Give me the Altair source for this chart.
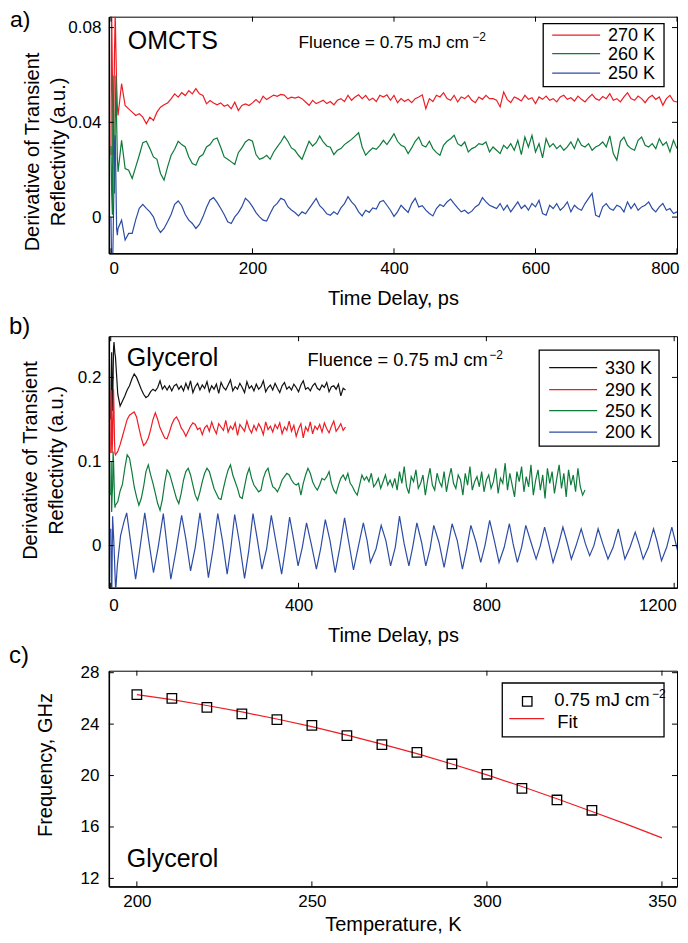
import altair as alt
import pandas as pd

FONT = "Liberation Sans"
INK = "black"

# ---------------- panel a : OMCTS (trace values in 1e-4 a.u.) ----------------
a_labels = ["270 K", "260 K", "250 K"]
a_colors = ["#EE1D25", "#0E7B3B", "#2D4CA5"]
a_xticks = [0, 200, 400, 600, 800]
a_yticks = [0, 0.04, 0.08]
a_early_t = [0, 1, 2, 3, 4, 5, 6, 7, 8, 9]
a270_early = [262, 860, 600, 262, 400, 700, 860, 700, 560, 470]
a260_early = [300, 100, 10, 598, 300, 100, 400, 598, 400, 250]
a250_early = [0, -200, -250, -100, 100, 300, 345, 150, -50, -76]
a_t0, a_dt = 10, 5
a270 = [429, 563, 471, 457, 443, 429, 436, 422, 394, 422,
        408, 443, 464, 474, 482, 499, 520, 506, 525, 513,
        534, 520, 542, 520, 513, 478, 492, 482, 474, 482,
        468, 474, 457, 485, 450, 471, 478, 471, 482, 496,
        482, 510, 496, 506, 515, 510, 518, 515, 499, 506, 502,
        507, 500, 486, 472, 493, 479, 486, 493, 479, 488,
        474, 493, 500, 488, 514, 493, 507, 516, 500, 514,
        493, 502, 488, 514, 507, 516, 493, 514, 483, 500,
        488, 497, 483, 500, 507, 516, 458, 500, 488, 514,
        507, 525, 500, 493, 514, 486, 507, 500, 514, 493,
        483, 507, 497, 514, 500,
        500, 493, 465, 528, 497, 483, 507, 500, 490, 514,
        497, 504, 479, 507, 497, 511, 493, 500, 486, 507,
        514, 497, 504, 490, 511, 497, 486, 504, 518, 500,
        493, 509, 500, 521, 493, 500, 486, 507, 525, 500,
        493, 511, 500, 483, 504, 514, 497, 507, 472, 500,
        514, 490, 486]
a260 = [191, 324, 205, 198, 163, 212, 261, 314, 320, 289,
        254, 244, 184, 156, 212, 261, 286, 320, 306, 296,
        254, 226, 219, 254, 264, 296, 306, 328, 334, 296,
        254, 244, 233, 222, 272, 292, 317, 328, 320, 264,
        244, 250, 261, 244, 275, 296, 317, 342, 320, 292, 282,
        261, 244, 282, 320, 300, 314, 342, 317, 300, 295,
        264, 282, 289, 306, 317, 328, 342, 356, 296, 261,
        278, 292, 286, 303, 324, 306, 328, 352, 320, 303,
        296, 268, 292, 320, 338, 303, 296, 320, 289, 272,
        261, 303, 320, 331, 345, 310, 300, 317, 275, 289,
        296, 310, 306, 317, 275,
        296, 282, 268, 303, 289, 310, 282, 324, 264, 338,
        296, 345, 275, 310, 250, 331, 296, 310, 289, 303,
        282, 296, 317, 289, 331, 303, 296, 310, 282, 296,
        303, 317, 296, 343, 268, 240, 320, 338, 303, 289,
        282, 324, 338, 303, 296, 310, 289, 331, 303, 317,
        275, 324, 289]
a250 = [-48, -13, -97, -69, -69, -11, 37, 54, 37, 22,
        1, -41, -65, -48, -20, 11, 54, 68, 48, 11,
        -13, -27, -48, -31, 1, 40, 72, 82, 62, 37,
        11, -20, -27, 1, 19, 44, 79, 65, 44, 19,
        1, -13, -17, 15, 44, 58, 79, 72, 44, 30, 19,
        5, 22, 14, 36, 57, 79, 48, 34, 14, 8,
        22, 11, 39, 57, 86, 64, 48, 22, 5, 29,
        20, 39, 34, 64, 70, 50, 29, 3, 22, 50,
        34, 20, 57, 79, 43, 48, 29, 15, 5, 36,
        53, 45, 64, 76, 57, 39, 22, 29, 15, 25,
        43, 53, 82, 64, 50,
        43, 36, 57, 29, 50, 22, 43, 64, 36, 50,
        29, 57, 43, 71, 15, 8, 50, 36, 57, 29,
        43, 64, 22, 50, 36, 29, 57, 79, 100, 8,
        1, 43, 57, 36, 29, 50, 43, 22, 64, 36,
        57, 29, 43, 50, 64, 36, 22, 43, 57, 29,
        36, 15, 22]

# ---------------- panel b : Glycerol (trace values in 1e-3 a.u.) ----------------
b_labels = ["330 K", "290 K", "250 K", "200 K"]
b_colors = ["#111111", "#EE1D25", "#0E7B3B", "#2D4CA5"]
b_xticks = [0, 400, 800, 1200]
b_yticks = [0, 0.1, 0.2]
b_early_t = [0, 1, 2, 3, 4, 5, 6, 7, 8, 9]
b330_early = [150, 200, 230, 180, 160, 200, 235, 242, 235, 228]
b290_early = [110, 185, 150, 110, 130, 160, 186, 160, 125, 110]
b250_early = [60, 100, 40, 60, 70, 112, 100, 80, 55, 45]
b_t0, b_dt = 10, 5
b330 = [225, 180, 166, 172, 178, 185, 190, 198, 204, 200,
        193, 186, 180, 176, 178, 183, 186, 184, 188, 196,
        186, 190, 185, 190, 184, 190, 192, 186,
        190, 184, 193, 186, 196, 182, 189, 193, 185, 191,
        187, 195, 183, 190, 186, 192, 181, 194, 188, 185,
        191, 197, 184, 189, 186, 193, 188, 182, 195, 187,
        190, 184, 192, 186, 189, 196, 183, 188, 191, 185,
        193, 187, 182, 190, 194, 186, 189, 185, 192, 188,
        183, 191, 196, 186, 188, 184, 190, 193, 187, 185,
        191, 188, 194, 183, 189, 190, 186, 192, 178, 187, 185]
b290 = [108, 112, 120, 130, 140, 150, 155, 157, 159, 153,
        140, 128, 119, 122, 128, 138, 150, 158, 150, 140,
        134, 128, 127, 135, 144, 150, 153, 148, 140, 136,
        130, 136, 142, 146, 144, 138, 140, 132, 140,
        143, 136, 147, 139, 133, 145, 141, 137, 149, 135,
        142, 138, 146, 131, 144, 140, 136, 148, 139, 134,
        143, 137, 145, 140, 132, 147, 138, 142, 135, 144,
        139, 146, 133, 141, 137, 148, 136, 143, 130, 139,
        145, 128, 141, 136, 147, 133, 142, 138, 144, 135,
        146, 139, 134, 142, 148, 136, 140, 145, 137, 141]
b250 = [48, 52, 65, 73, 92, 108, 104, 88, 70, 58,
        48, 56, 70, 88, 96, 84, 74, 62, 50, 42,
        55, 75, 90, 86, 76, 66, 56, 50, 62, 78,
        88, 92, 84, 72, 60, 54, 64, 76, 86, 92,
        88, 78, 68, 62, 56, 55, 68, 80, 90, 96,
        84, 76, 68, 58, 56, 70, 84, 92, 80, 72,
        68, 64, 66, 80, 88, 92, 80, 70, 68, 64,
        70, 78, 82, 86, 84, 78, 74, 72, 74,
        60, 74, 84, 92, 86, 76, 70, 66, 72, 80,
        78, 82, 88, 74, 66, 62, 72, 80, 84, 78,
        86, 74, 70, 64, 60, 72, 84, 78, 82, 76,
        86, 70, 74, 80, 68, 76, 84, 72, 78, 70,
        80, 66, 88, 74, 94, 70, 62, 82, 76, 90,
        68, 74, 84, 60, 78, 92, 72, 66, 86, 76,
        70, 88, 64, 80, 92, 74, 68, 84, 78, 60,
        86, 72, 94, 66, 76, 82, 70, 88, 64, 78,
        84, 68, 76, 92, 62, 80, 74, 98, 66, 86,
        72, 58, 88, 76, 94, 64, 82, 70, 96, 60,
        78, 90, 66, 84, 56, 92, 74, 88, 62, 80,
        96, 68, 86, 58, 90, 72, 84, 64, 92, 70,
        60, 66]
b200_t = [0, 2, 4, 7, 10.5, 14, 21, 28, 34,
          43, 53, 62, 72.5, 81, 91, 101, 112, 119, 128,
          139, 151, 160, 170, 180, 190, 199, 208, 218, 228,
          238, 248, 256, 264, 274, 285, 294, 303, 312, 322,
          332, 342, 352, 364, 372, 381, 390, 399, 408, 417,
          427, 438, 447, 457, 467, 478, 488, 498, 507, 517,
          527, 538, 546, 553, 565, 576, 586, 596, 606, 615,
          625, 635, 643, 652, 662, 671, 680, 688, 699, 710,
          718, 727, 738, 749, 758, 767, 778, 788, 797, 807,
          817, 827, 838, 849, 857, 866, 875, 884, 895, 906,
          915, 924, 933, 942, 952, 963, 972, 981, 991, 1002,
          1011, 1020, 1029, 1038, 1048, 1059, 1070, 1081, 1088, 1095,
          1106, 1117, 1125, 1134, 1145, 1156, 1164, 1173, 1184, 1195,
          1202, 1209]
b200_v = [20, -70, 35, 0, -55, -24, 12, 28, 39,
          2, -40, -4, 39, 6, -32, -2, 38, 4, -40,
          -6, 36, 8, -30, -2, 39, 4, -38, -4, 38,
          6, -34, -2, 37, 4, -39, -6, 38, 8, -28,
          -4, 36, 4, -34, -4, 34, 6, -24, -2, 27,
          2, -28, -4, 31, 6, -32, -2, 33, 4, -29,
          -2, 27, 6, -20, -4, 24, 6, -24, -2, 35,
          2, -24, -2, 27, 4, -24, -4, 24, 4, -26,
          -2, 26, 6, -28, -4, 24, 4, -20, 0, 30,
          6, -20, -2, 26, 2, -20, -2, 24, 4, -16,
          0, 22, 2, -20, -2, 22, 4, -16, 0, 20,
          2, -12, 0, 20, 2, -16, -2, 20, 2, -16,
          -2, 16, 2, -16, -2, 20, 4, -18, -2, 22,
          6, -10]

# ---------------- panel c : frequency vs temperature ----------------
c_temp = [200, 210, 220, 230, 240, 250, 260, 270, 280, 290, 300, 310, 320, 330]
c_freq = [26.3, 26.0, 25.3, 24.8, 24.35, 23.9, 23.1, 22.4, 21.8, 20.9, 20.1, 19.0, 18.1, 17.3]
fit_temp = [200, 210, 220, 230, 240, 250, 260, 270, 280, 290, 300, 310, 320, 330, 340, 350]
fit_freq = [26.3, 25.9, 25.45, 24.95, 24.4, 23.8, 23.15, 22.45, 21.7, 20.9, 20.05, 19.15, 18.2, 17.2, 16.2, 15.15]
c_xticks = [200, 250, 300, 350]
c_yticks = [12, 16, 20, 24, 28]

for arr in (a270, a260, a250):
    assert len(arr) == 159, len(arr)
assert len(b330) == 99 and len(b290) == 99 and len(b250) == 201
assert len(b200_t) == len(b200_v)

# ---------------- helpers ----------------
ONE = pd.DataFrame({"k": [0]})
W = 569
HA, HB, HC = 237, 252, 216


def trace(early_t, early_v, t0, dt, vals, unit, label):
    ts = list(early_t) + [t0 + dt * i for i in range(len(vals))]
    vs = [u * unit for u in list(early_v) + list(vals)]
    return pd.DataFrame({"t": ts, "v": vs, "series": label})


def txt(s, x, y, size, align="left", baseline="alphabetic"):
    return alt.Chart(ONE).mark_text(
        text=s, font=FONT, fontSize=size, align=align, baseline=baseline, color=INK
    ).encode(x=alt.value(x), y=alt.value(y))


def inward_ticks(xvals, yvals, X, Y, xf, yf, h, L=5):
    """Inward tick marks on all four sides (same encodings as the data layer)."""
    dx = pd.DataFrame({xf: xvals})
    dy = pd.DataFrame({yf: yvals})
    st = dict(color=INK, strokeWidth=1)
    return [
        alt.Chart(dx).mark_rule(**st).encode(x=X, y=alt.value(h), y2=alt.value(h - L)),
        alt.Chart(dx).mark_rule(**st).encode(x=X, y=alt.value(0), y2=alt.value(L)),
        alt.Chart(dy).mark_rule(**st).encode(y=Y, x=alt.value(0), x2=alt.value(L)),
        alt.Chart(dy).mark_rule(**st).encode(y=Y, x=alt.value(W - L), x2=alt.value(W)),
    ]


def line_legend(labels, colors, box, rows, line_x, label_x, size):
    x0, x1, y0, y1 = box
    out = [alt.Chart(ONE).mark_rect(fill="white", stroke=INK, strokeWidth=1.3).encode(
        x=alt.value(x0), x2=alt.value(x1), y=alt.value(y0), y2=alt.value(y1))]
    for lab, col, ry in zip(labels, colors, rows):
        out.append(alt.Chart(ONE).mark_rule(color=col, strokeWidth=1.3).encode(
            x=alt.value(line_x[0]), x2=alt.value(line_x[1]), y=alt.value(ry)))
        out.append(txt(lab, label_x, ry + 1, size, baseline="middle"))
    return out


YTITLE = ["Derivative  of Transient", "Reflectivity  (a.u.)"]

# ---------------- panel a ----------------
dfa = pd.concat([
    trace(a_early_t, a270_early, a_t0, a_dt, a270, 1e-4, a_labels[0]),
    trace(a_early_t, a260_early, a_t0, a_dt, a260, 1e-4, a_labels[1]),
    trace(a_early_t, a250_early, a_t0, a_dt, a250, 1e-4, a_labels[2]),
])
X_a = alt.X("t:Q", scale=alt.Scale(domain=[-3, 800], nice=False, zero=False), axis=alt.Axis(
    values=a_xticks, format="d", title="Time Delay, ps", labelPadding=7.7, titleY=35.5,
    titleBaseline="top", labelFlush=10, labelFlushOffset=2))
Y_a = alt.Y("v:Q", scale=alt.Scale(domain=[-0.0153, 0.0846], nice=False, zero=False), axis=alt.Axis(
    values=a_yticks, format=".2~f", title=YTITLE, titleX=-86.5, titleY=135,
    titleAngle=270, titleAlign="center", titleBaseline="top", titleLineHeight=26,
    labelPadding=8))
lines_a = alt.Chart(dfa).mark_line(strokeWidth=1.2, clip=True).encode(
    x=X_a, y=Y_a,
    color=alt.Color("series:N", scale=alt.Scale(domain=a_labels, range=a_colors), legend=None),
)
panel_a = alt.layer(
    lines_a,
    *inward_ticks(a_xticks, a_yticks, X_a, Y_a, "t", "v", HA),
    txt("OMCTS", 19, 32, 25),
    txt("Fluence = 0.75 mJ cm", 190, 31, 17.3),
    txt("\u22122", 364, 24, 12),
    txt("a)", -99, 10.5, 23),
    *line_legend(a_labels, a_colors, (435, 556, 7, 70), (18.5, 37, 56.5), (444, 492), 500, 18),
).properties(width=W, height=HA)

# ---------------- panel b ----------------
dfb = pd.concat([
    trace(b_early_t, b330_early, b_t0, b_dt, b330, 1e-3, b_labels[0]),
    trace(b_early_t, b290_early, b_t0, b_dt, b290, 1e-3, b_labels[1]),
    trace(b_early_t, b250_early, b_t0, b_dt, b250, 1e-3, b_labels[2]),
    pd.DataFrame({"t": b200_t, "v": [u * 1e-3 for u in b200_v], "series": b_labels[3]}),
])
X_b = alt.X("t:Q", scale=alt.Scale(domain=[-4, 1206], nice=False, zero=False), axis=alt.Axis(
    values=b_xticks, format="d", title="Time Delay, ps", labelPadding=9.7, titleY=37.5,
    titleBaseline="top", labelFlush=10, labelFlushOffset=2))
Y_b = alt.Y("v:Q", scale=alt.Scale(domain=[-0.0502, 0.249], nice=False, zero=False), axis=alt.Axis(
    values=b_yticks, format=".1~f", title=YTITLE, titleX=-88.5, titleY=124,
    titleAngle=270, titleAlign="center", titleBaseline="top", titleLineHeight=26,
    labelPadding=8))
lines_b = alt.Chart(dfb).mark_line(strokeWidth=1.2, clip=True).encode(
    x=X_b, y=Y_b,
    color=alt.Color("series:N", scale=alt.Scale(domain=b_labels, range=b_colors), legend=None),
)
panel_b = alt.layer(
    lines_b,
    *inward_ticks(b_xticks, b_yticks, X_b, Y_b, "t", "v", HB),
    txt("Glycerol", 18, 30, 25),
    txt("Fluence = 0.75 mJ cm", 199, 30, 18.3),
    txt("\u22122", 381, 23, 12),
    txt("b)", -100, -2, 24),
    *line_legend(b_labels, b_colors, (431, 551, 14, 110), (31.5, 53.5, 74.5, 96), (441, 489), 497, 18),
).properties(width=W, height=HB)

# ---------------- panel c ----------------
dfc_pts = pd.DataFrame({"T": c_temp, "f": c_freq})
dfc_fit = pd.DataFrame({"T": fit_temp, "f": fit_freq})
X_c = alt.X("T:Q", scale=alt.Scale(domain=[192.0, 354.3], nice=False, zero=False), axis=alt.Axis(
    values=c_xticks, title="Temperature, K", labelPadding=6.7, titleY=27.7,
    titleBaseline="top", labelFlush=False))
Y_c = alt.Y("f:Q", scale=alt.Scale(domain=[11.38, 28.155], nice=False, zero=False), axis=alt.Axis(
    values=c_yticks, title="Frequency, GHz", titleX=-73.5, titleY=94,
    titleAngle=270, titleAlign="center", titleBaseline="top", labelPadding=10))
fit_c = alt.Chart(dfc_fit).mark_line(color="#EE1D25", strokeWidth=1.2).encode(x=X_c, y=Y_c)
pts_c = alt.Chart(dfc_pts).mark_point(shape="square", size=90, filled=False, color=INK,
                                      strokeWidth=1.3, opacity=1).encode(x=X_c, y=Y_c)
leg_c = [
    alt.Chart(ONE).mark_rect(fill="white", stroke=INK, strokeWidth=1.3).encode(
        x=alt.value(394), x2=alt.value(556), y=alt.value(12.3), y2=alt.value(66.3)),
    alt.Chart(ONE).mark_point(shape="square", size=90, filled=False, color=INK,
                              strokeWidth=1.3, opacity=1).encode(x=alt.value(419), y=alt.value(30.7)),
    txt("0.75 mJ cm", 446, 35, 18.5),
    txt("\u22122", 544, 27, 12),
    alt.Chart(ONE).mark_rule(color="#EE1D25", strokeWidth=1.3).encode(
        x=alt.value(401), x2=alt.value(436), y=alt.value(48)),
    txt("Fit", 449, 57, 18.5),
]
panel_c = alt.layer(
    fit_c, pts_c,
    *inward_ticks(c_xticks, c_yticks, X_c, Y_c, "T", "f", HC),
    txt("Glycerol", 18, 197, 25),
    txt("c)", -100, -8, 24),
    *leg_c,
).properties(width=W, height=HC)

chart = alt.vconcat(panel_a, panel_b, panel_c, spacing=83, bounds="flush").resolve_scale(
    color="independent"
).properties(
    padding={"left": 0, "top": 0, "right": 0, "bottom": 0}
).configure_view(stroke=INK, strokeWidth=1).configure_axis(
    labelFont=FONT, labelFontSize=17, labelColor=INK,
    titleFont=FONT, titleFontSize=20, titleFontWeight="normal", titleColor=INK,
    grid=False, ticks=False, domainColor=INK, domainWidth=1.5,
)

chart.save("out.html", embed_options={"renderer": "svg", "actions": False})
